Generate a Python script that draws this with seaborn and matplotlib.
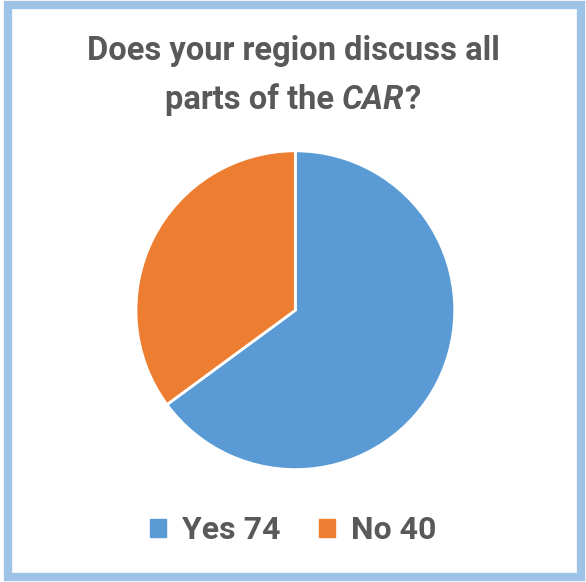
import matplotlib
matplotlib.use("Agg")
import matplotlib.pyplot as plt
import seaborn as sns
from matplotlib.patches import Rectangle, Patch

labels = ["Yes", "No"]
counts = [74, 40]
colors = ["#5B9BD5", "#ED7D31"]
title_line1 = "Does your region discuss all"
title_line2 = ["parts of the ", "CAR", "?"]

sns.set_style("white")
plt.rcParams['font.family'] = ['Roboto', 'DejaVu Sans']

fig = plt.figure(figsize=(5.86, 5.82), dpi=100)

# border
fig.patches.append(Rectangle((8 / 586, 5 / 582), 573 / 586, 572 / 582, transform=fig.transFigure,
                             fill=False, edgecolor="#9DC3E6", linewidth=6))

ax = fig.add_axes([0.504 - 0.272, 0.467 - 0.274, 0.544, 0.548])
ax.pie(counts, colors=colors, startangle=90, counterclock=False,
       wedgeprops=dict(edgecolor="white", linewidth=2))
ax.set_xlim(-1, 1)
ax.set_ylim(-1, 1)
ax.set_aspect("equal")
ax.axis("off")

txt_kw = dict(fontsize=23.5, fontweight="bold", color="#595959", va="center")
fig.text(0.5, 1 - 51 / 582, title_line1, ha="center", **txt_kw)

# second title line with italic CAR
r = fig.canvas.get_renderer()
parts = []
for i, s in enumerate(title_line2):
    t = fig.text(0, 1 - 100 / 582, s, ha="left", style="italic" if i == 1 else "normal", **txt_kw)
    parts.append(t)
widths = [t.get_window_extent(r).width for t in parts]
x = (586 - sum(widths)) / 2
for t, w in zip(parts, widths):
    t.set_x(x / 586)
    x += w

handles = [Patch(facecolor=c, edgecolor=c) for c in colors]
leg_labels = [f"{l} {v}" for l, v in zip(labels, counts)]
fig.legend(handles, leg_labels, loc="center", bbox_to_anchor=(0.5, 1 - 530 / 582), ncol=2,
           frameon=False, prop=dict(size=23, weight="bold"), labelcolor="#595959",
           handlelength=0.5, handleheight=0.5, handletextpad=0.5, columnspacing=1.2)

fig.savefig("out.png", dpi=100)
